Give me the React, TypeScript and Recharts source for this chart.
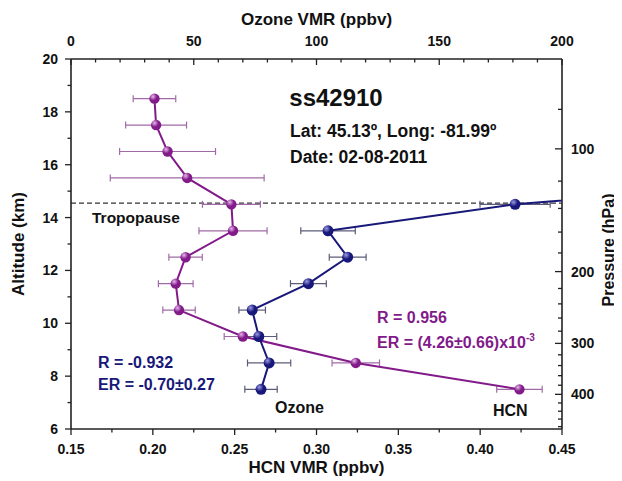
import { ScatterChart, Scatter, XAxis, YAxis, ErrorBar, ReferenceLine } from "recharts";

// HCN profile (bottom axis, ppbv)
const hcnAltitude = [18.5, 17.5, 16.5, 15.5, 14.5, 13.5, 12.5, 11.5, 10.5, 9.5, 8.5, 7.5];
const hcnVmr = [0.201, 0.202, 0.209, 0.221, 0.248, 0.249, 0.22, 0.214, 0.216, 0.255, 0.324, 0.424];
const hcnErr = [0.013, 0.0186, 0.0293, 0.047, 0.0177, 0.0208, 0.0102, 0.0106, 0.0099, 0.0114, 0.0145, 0.0139];

// Ozone profile (top axis, ppbv) - first point sits above the axis range
const ozoneAltitude = [15.5, 14.5, 13.5, 12.5, 11.5, 10.5, 9.5, 8.5, 7.5];
const ozoneVmr = [313, 180.9, 104.7, 112.7, 96.7, 73.8, 76.5, 80.7, 77.4];
const ozoneErr = [14, 14.3, 11.1, 7.5, 7.3, 5.4, 7.3, 8.8, 6.6];

const tropopause = 14.55;

const altTicks = [6, 7, 8, 9, 10, 11, 12, 13, 14, 15, 16, 17, 18, 19, 20];
const hcnTicks = [0.15, 0.175, 0.2, 0.225, 0.25, 0.275, 0.3, 0.325, 0.35, 0.375, 0.4, 0.425, 0.45];
const ozoneTicks = [0, 10, 20, 30, 40, 50, 60, 70, 80, 90, 100, 110, 120, 130, 140, 150, 160, 170, 180, 190, 200];
const pressureTicks = [80, 100, 120, 140, 160, 180, 200, 220, 240, 260, 280, 300, 320, 340, 360, 380, 400, 420, 440, 460, 480];
const pressureLabels = [100, 200, 300, 400];

// altitude of a pressure level (scale-height fit of the right axis)
const P_REF = 100;
const ALT_REF = 16.6;
const SCALE_H = 6.7;
const pressureToAlt = (p: number) => ALT_REF - SCALE_H * Math.log(p / P_REF);

const hcnData = hcnAltitude.map((y, i) => ({ x: hcnVmr[i], y, err: hcnErr[i] }));
const ozoneData = ozoneAltitude.map((y, i) => ({ x: ozoneVmr[i], y, err: ozoneErr[i] }));

const FONT = '"Liberation Sans", Arial, sans-serif';
const AXIS = "#222";
const PURPLE = "#821a8a";
const PURPLE_ERR = "#a06aa6";
const BLUE = "#18187a";
const BLUE_ERR = "#5c5c78";
const TICK_FONT = 14;

const LeftTick = (props: any) => {
  const { x, y, payload } = props;
  const v = payload.value;
  const major = v % 2 === 0;
  return (
    <g>
      <line x1={x} x2={x - (major ? 6 : 3.5)} y1={y} y2={y} stroke={AXIS} strokeWidth={1.3} />
      {major && (
        <text x={x - 13} y={y} dy="0.36em" textAnchor="end" fontFamily={FONT} fontWeight="bold" fontSize={TICK_FONT} fill="#111">
          {v}
        </text>
      )}
    </g>
  );
};

const BottomTick = (props: any) => {
  const { x, y, payload, index } = props;
  const major = index % 2 === 0;
  return (
    <g>
      <line x1={x} x2={x} y1={y} y2={y + (major ? 6 : 3.5)} stroke={AXIS} strokeWidth={1.3} />
      {major && (
        <text x={x} y={y + 20} dy="0.36em" textAnchor="middle" fontFamily={FONT} fontWeight="bold" fontSize={TICK_FONT} fill="#111">
          {payload.value.toFixed(2)}
        </text>
      )}
    </g>
  );
};

const TopTick = (props: any) => {
  const { x, y, payload } = props;
  const v = payload.value;
  const major = v % 50 === 0;
  return (
    <g>
      <line x1={x} x2={x} y1={y} y2={y + (major ? 6 : 3.5)} stroke={AXIS} strokeWidth={1.3} />
      {major && (
        <text x={x} y={y - 18} dy="0.36em" textAnchor="middle" fontFamily={FONT} fontWeight="bold" fontSize={TICK_FONT} fill="#111">
          {v}
        </text>
      )}
    </g>
  );
};

const RightTick = (props: any) => {
  const { x, y, index } = props;
  const p = pressureTicks[index];
  const major = pressureLabels.includes(p);
  return (
    <g>
      <line x1={x} x2={x - (major ? 7 : 4)} y1={y} y2={y} stroke={AXIS} strokeWidth={1.3} />
      {major && (
        <text x={x + 9} y={y} dy="0.36em" textAnchor="start" fontFamily={FONT} fontWeight="bold" fontSize={TICK_FONT} fill="#111">
          {p}
        </text>
      )}
    </g>
  );
};

const makeBall = (id: string, dark: string, light: string, r: number) => (props: any) => {
  const { cx, cy } = props;
  if (cx == null || cy == null) return <g />;
  return (
    <g>
      <defs>
        <radialGradient id={id} cx="35%" cy="30%" r="70%">
          <stop offset="0%" stopColor={light} />
          <stop offset="55%" stopColor={dark} />
          <stop offset="100%" stopColor={dark} />
        </radialGradient>
      </defs>
      <circle cx={cx} cy={cy} r={r} fill={`url(#${id})`} />
    </g>
  );
};

const PurpleBall = makeBall("ballPurple", PURPLE, "#e6b8ec", 5.2);
const BlueBall = makeBall("ballBlue", BLUE, "#9b9be6", 5.5);

const txt = { fontFamily: FONT, fontWeight: "bold" as const };

export default function App() {
  return (
    <ScatterChart width={614} height={473} margin={{ top: 0, right: 0, bottom: 0, left: 0 }}>
      <XAxis
        xAxisId="hcn"
        type="number"
        dataKey="x"
        orientation="bottom"
        domain={[0.15, 0.45]}
        allowDataOverflow
        ticks={hcnTicks}
        interval={0}
        height={52}
        tickSize={0}
        tickMargin={0}
        tickLine={false}
        tick={<BottomTick />}
        axisLine={{ stroke: AXIS, strokeWidth: 1.6 }}
      />
      <XAxis
        xAxisId="ozone"
        type="number"
        dataKey="x"
        orientation="top"
        domain={[0, 200]}
        allowDataOverflow
        ticks={ozoneTicks}
        interval={0}
        height={51}
        tickSize={0}
        tickMargin={0}
        tickLine={false}
        tick={<TopTick />}
        axisLine={{ stroke: AXIS, strokeWidth: 1.6 }}
      />
      <YAxis
        yAxisId="alt"
        type="number"
        dataKey="y"
        orientation="left"
        domain={[6, 20]}
        allowDataOverflow
        ticks={altTicks}
        interval={0}
        width={63}
        tickSize={0}
        tickMargin={0}
        tickLine={false}
        tick={<LeftTick />}
        axisLine={{ stroke: AXIS, strokeWidth: 1.6 }}
      />
      <YAxis
        yAxisId="pres"
        type="number"
        dataKey="y"
        orientation="right"
        domain={[6, 20]}
        allowDataOverflow
        ticks={pressureTicks.map(pressureToAlt)}
        interval={0}
        width={60}
        tickSize={0}
        tickMargin={0}
        tickLine={false}
        tick={<RightTick />}
        axisLine={{ stroke: AXIS, strokeWidth: 1.6 }}
      />

      <ReferenceLine
        xAxisId="hcn"
        yAxisId="alt"
        y={tropopause}
        stroke="#333"
        strokeWidth={1.2}
        strokeDasharray="5 3"
      />

      <Scatter
        name="HCN"
        data={hcnData}
        xAxisId="hcn"
        yAxisId="alt"
        fill={PURPLE}
        line={{ stroke: PURPLE, strokeWidth: 2 }}
        lineType="joint"
        shape={PurpleBall}
        isAnimationActive={false}
      >
        <ErrorBar dataKey="err" direction="x" width={3.5} stroke={PURPLE_ERR} strokeWidth={1.2} />
      </Scatter>

      <Scatter
        name="Ozone"
        data={ozoneData}
        xAxisId="ozone"
        yAxisId="pres"
        fill={BLUE}
        line={{ stroke: BLUE, strokeWidth: 2 }}
        lineType="joint"
        shape={BlueBall}
        isAnimationActive={false}
      >
        <ErrorBar dataKey="err" direction="x" width={3.5} stroke={BLUE_ERR} strokeWidth={1.2} />
      </Scatter>

      {/* axis titles */}
      <text x={308.5} y={11} dy="0.36em" textAnchor="middle" fontSize={17} fill="#111" {...txt}>
        Ozone VMR (ppbv)
      </text>
      <text x={308.5} y={459} dy="0.36em" textAnchor="middle" fontSize={17} fill="#111" {...txt}>
        HCN VMR (ppbv)
      </text>
      <text x={10} y={236} dy="0.36em" textAnchor="middle" fontSize={17} fill="#111" transform="rotate(-90 10 236)" {...txt}>
        Altitude (km)
      </text>
      <text x={600} y={242} dy="0.36em" textAnchor="middle" fontSize={16} fill="#111" transform="rotate(-90 600 242)" {...txt}>
        Pressure (hPa)
      </text>

      {/* annotations */}
      <text x={328} y={89} dy="0.36em" textAnchor="middle" fontSize={24} fill="#111" {...txt}>
        ss42910
      </text>
      <text x={282} y={123} dy="0.36em" fontSize={17.5} fill="#111" {...txt}>
        Lat: 45.13º, Long: -81.99º
      </text>
      <text x={282} y={149} dy="0.36em" fontSize={17.5} fill="#111" {...txt}>
        Date: 02-08-2011
      </text>
      <text x={84} y={209} dy="0.36em" fontSize={15.5} fill="#111" {...txt}>
        Tropopause
      </text>
      <text x={369} y={309} dy="0.36em" fontSize={16} fill={PURPLE} {...txt}>
        R = 0.956
      </text>
      <text x={369} y={334} dy="0.36em" fontSize={16} fill={PURPLE} {...txt}>
        ER = (4.26±0.66)x10<tspan dy="-7" fontSize={10}>-3</tspan>
      </text>
      <text x={90} y={354} dy="0.36em" fontSize={16} fill={BLUE} {...txt}>
        R = -0.932
      </text>
      <text x={90} y={376} dy="0.36em" fontSize={16} fill={BLUE} {...txt}>
        ER = -0.70±0.27
      </text>
      <text x={267} y={399} dy="0.36em" fontSize={16} fill="#111" {...txt}>
        Ozone
      </text>
      <text x={485} y={402} dy="0.36em" fontSize={16} fill="#111" {...txt}>
        HCN
      </text>
    </ScatterChart>
  );
}
